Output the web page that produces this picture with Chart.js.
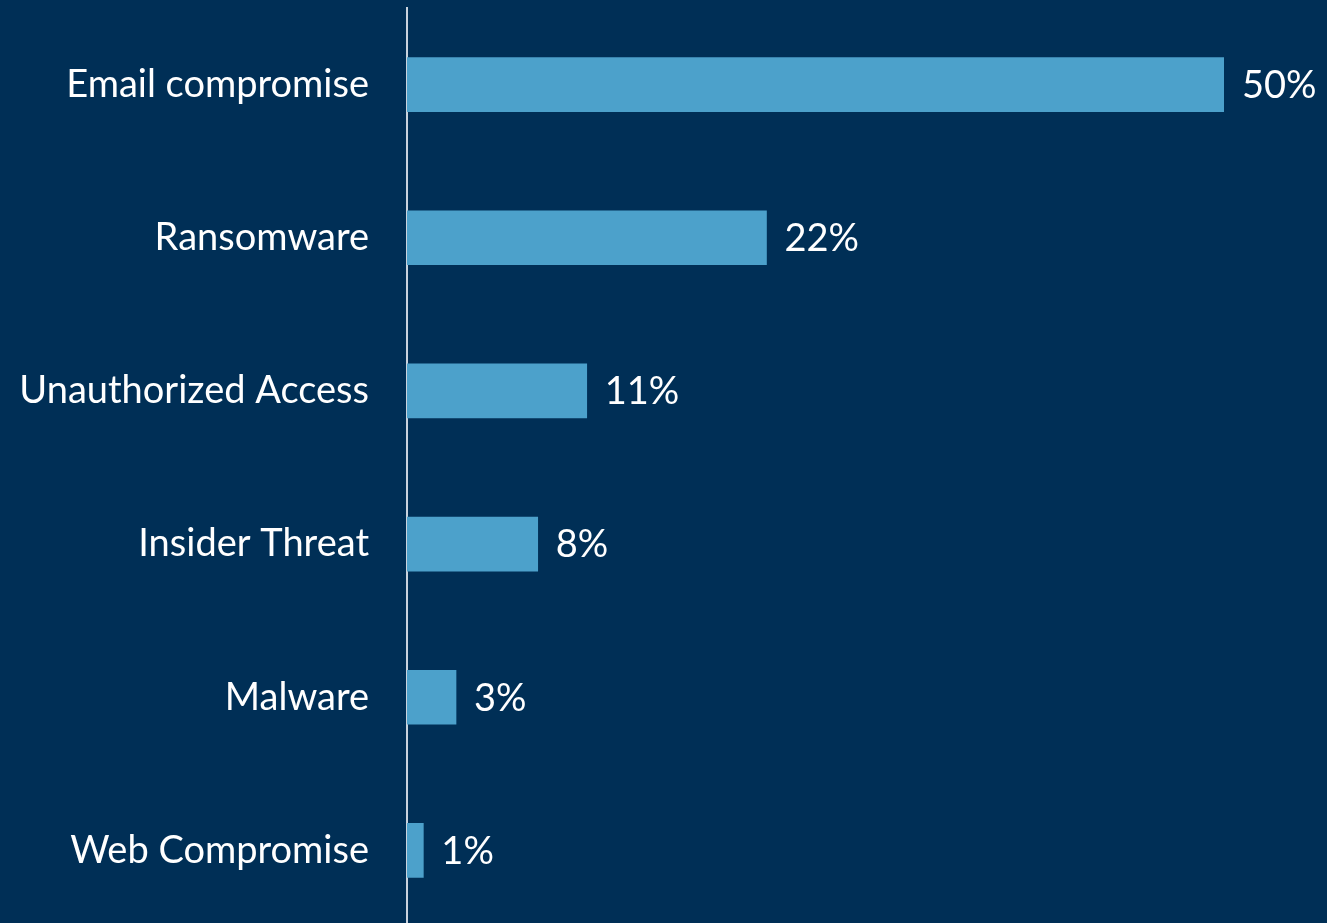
<!DOCTYPE html>
<html>
<head>
<meta charset="utf-8">
<script src="https://cdn.jsdelivr.net/npm/chart.js@4/dist/chart.umd.min.js"></script>
<style>
  html, body { margin: 0; padding: 0; background: #002f56; overflow: hidden; }
  #wrap { width: 1327px; height: 923px; overflow: hidden; }
</style>
</head>
<body>
<div id="wrap"><canvas id="incidentChart" width="1327" height="927"></canvas></div>
<script>
const categories = ["Email compromise", "Ransomware", "Unauthorized Access", "Insider Threat", "Malware", "Web Compromise"];
const shares = [50, 22, 11, 8, 3, 1];

const FONT = "Lato, 'Open Sans', sans-serif";

// writes "NN%" just past the end of each bar
const valueLabels = {
  id: "valueLabels",
  afterDatasetsDraw(chart) {
    const ctx = chart.ctx;
    const meta = chart.getDatasetMeta(0);
    ctx.save();
    ctx.font = "38px " + FONT;
    ctx.fillStyle = "#ffffff";
    ctx.textAlign = "left";
    ctx.textBaseline = "middle";
    meta.data.forEach((bar, i) => {
      ctx.fillText(shares[i] + "%", bar.x + 18, bar.y + 1);
    });
    ctx.restore();
  }
};

new Chart(document.getElementById("incidentChart"), {
  type: "bar",
  data: {
    labels: categories,
    datasets: [{
      data: shares,
      backgroundColor: "#4ca1cb",
      borderWidth: 0,
      barThickness: 54
    }]
  },
  options: {
    indexAxis: "y",
    responsive: false,
    animation: false,
    layout: { padding: { top: 8, right: 103, bottom: 0, left: 0 } },
    plugins: {
      legend: { display: false },
      tooltip: { enabled: false }
    },
    scales: {
      x: {
        display: false,
        min: 0,
        max: 50
      },
      y: {
        grid: { display: false },
        border: { display: true, color: "#c9d3de", width: 2 },
        ticks: {
          color: "#ffffff",
          padding: 30,
          font: { family: FONT, size: 38 }
        },
        afterFit(scale) {
          scale.width = 407;
          scale.paddingTop = 0;
          scale.paddingBottom = 0;
        }
      }
    }
  },
  plugins: [valueLabels]
});
</script>
</body>
</html>
